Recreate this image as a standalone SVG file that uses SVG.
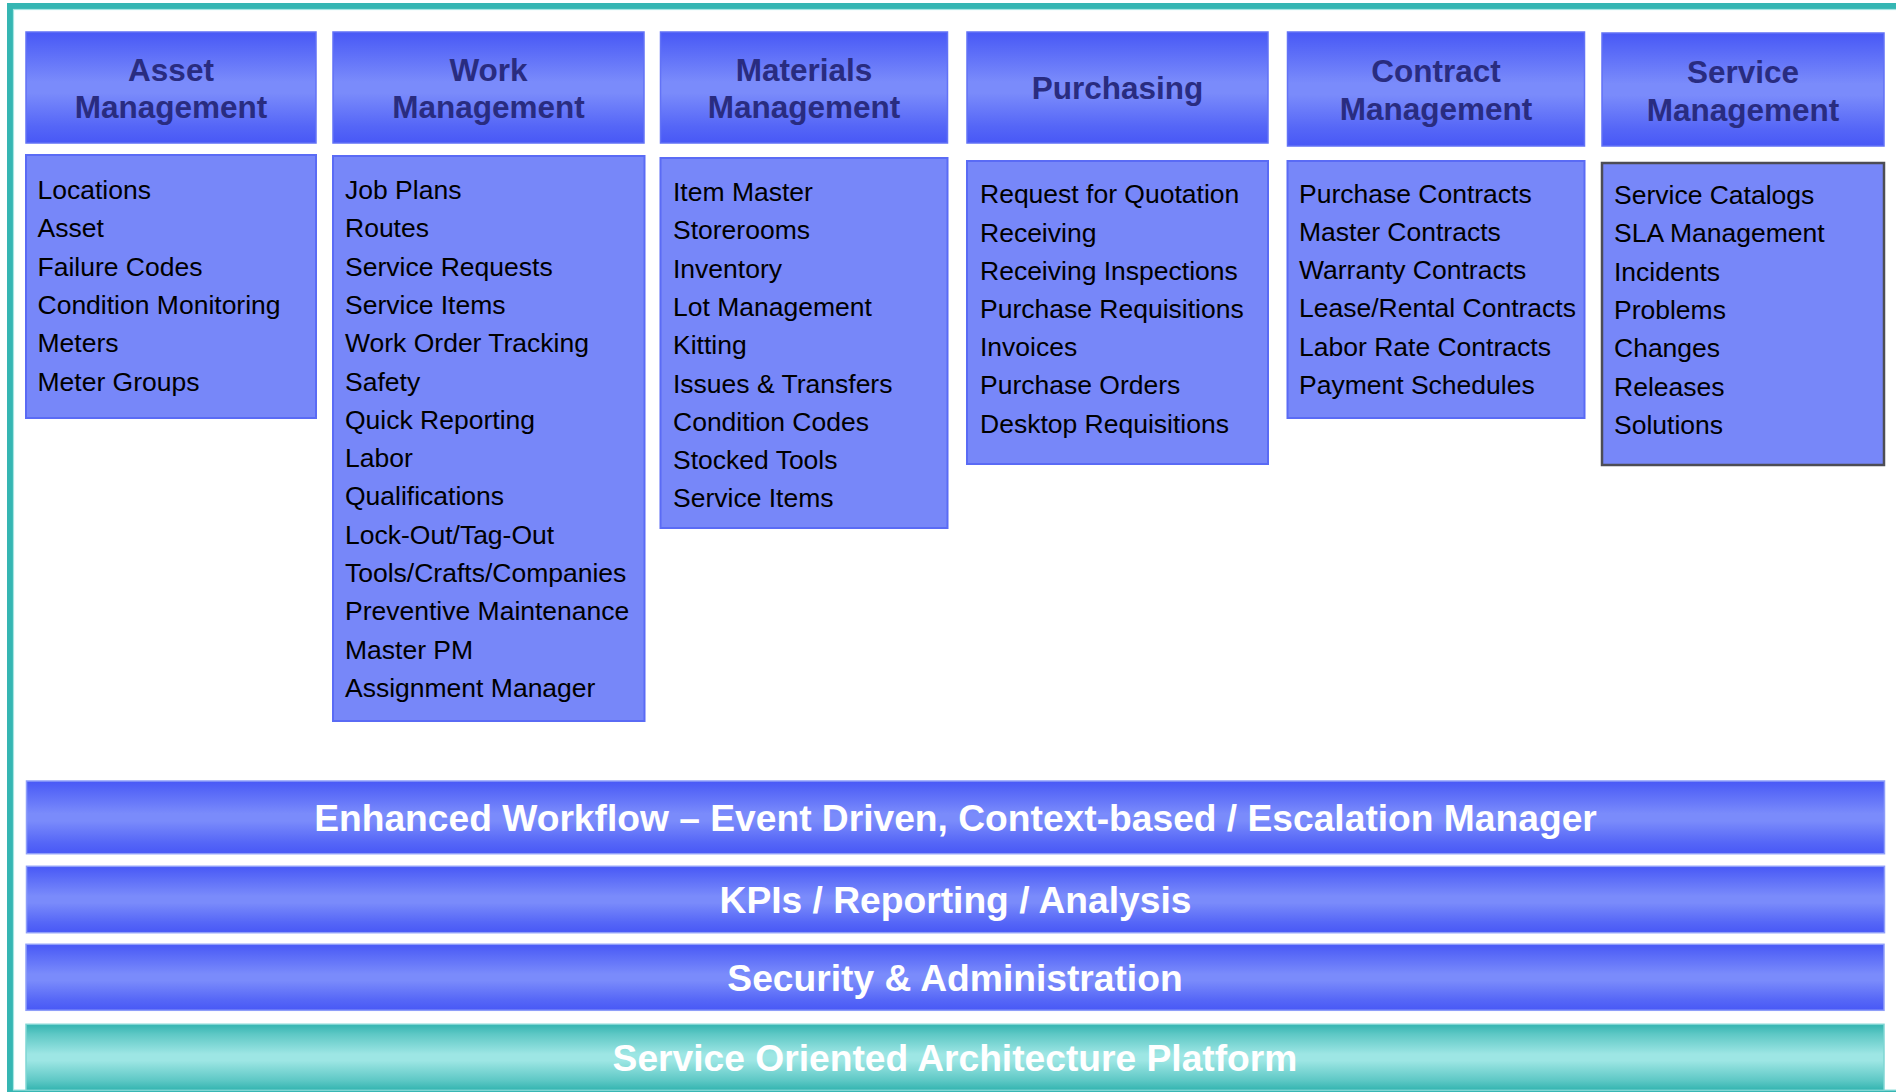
<svg xmlns="http://www.w3.org/2000/svg" width="1896" height="1092" viewBox="0 0 1896 1092">
<defs>
<linearGradient id="gBlue" x1="0" y1="0" x2="0" y2="1">
<stop offset="0" stop-color="#4858f6"/>
<stop offset="0.12" stop-color="#5566f7"/>
<stop offset="0.45" stop-color="#7a8bfb"/>
<stop offset="0.55" stop-color="#7a8bfb"/>
<stop offset="0.85" stop-color="#5566f7"/>
<stop offset="1" stop-color="#4858f6"/>
</linearGradient>
<linearGradient id="gTeal" x1="0" y1="0" x2="0" y2="1">
<stop offset="0" stop-color="#33b4b0"/>
<stop offset="0.15" stop-color="#5ec8c5"/>
<stop offset="0.45" stop-color="#9de6e4"/>
<stop offset="0.55" stop-color="#9de6e4"/>
<stop offset="0.85" stop-color="#5ec8c5"/>
<stop offset="1" stop-color="#33b4b0"/>
</linearGradient>
</defs>
<style>
.hdr{fill:url(#gBlue);stroke:#6272f6;stroke-width:1.5}
.body{fill:#7787f9;stroke:#5a6bf5;stroke-width:2}
.body2{fill:#7787f9;stroke:#4d4d55;stroke-width:2.5}
.bar{fill:url(#gBlue);stroke:#8f9ef9;stroke-width:1.5}
.tbar{fill:url(#gTeal);stroke:#7fd6d3;stroke-width:1.5}
.ht{font-family:"Liberation Sans",Arial,Helvetica,sans-serif;font-weight:bold;font-size:31.5px;fill:#292c80;text-anchor:middle}
.it{font-family:"Liberation Sans",Arial,Helvetica,sans-serif;font-size:26.5px;fill:#000}
.bt{font-family:"Liberation Sans",Arial,Helvetica,sans-serif;font-weight:bold;font-size:37.2px;fill:#fff;text-anchor:middle}
</style>
<rect width="1896" height="1092" fill="#fff"/>
<g id="frame">
<rect x="10" y="6" width="1900" height="1087" fill="none" stroke="#35b6b3" stroke-width="6"/>
<rect x="13.5" y="9.5" width="1900" height="1080.5" fill="none" stroke="#a6e6e3" stroke-width="1.2"/>
</g>

<g id="asset-management">
<rect class="hdr" x="26" y="32" width="290" height="111"/>
<text class="ht" x="171"><tspan x="171" y="81">Asset</tspan><tspan x="171" y="118">Management</tspan></text>
<rect class="body" x="26" y="155" width="290" height="263"/>
<text class="it"><tspan x="37.5" y="199">Locations</tspan><tspan x="37.5" y="237.3">Asset</tspan><tspan x="37.5" y="275.6">Failure Codes</tspan><tspan x="37.5" y="313.9">Condition Monitoring</tspan><tspan x="37.5" y="352.2">Meters</tspan><tspan x="37.5" y="390.5">Meter Groups</tspan></text>
</g>

<g id="work-management">
<rect class="hdr" x="333" y="32" width="311" height="111"/>
<text class="ht"><tspan x="488.5" y="81">Work</tspan><tspan x="488.5" y="118">Management</tspan></text>
<rect class="body" x="333" y="156" width="311.5" height="565"/>
<text class="it"><tspan x="345" y="199">Job Plans</tspan><tspan x="345" y="237.3">Routes</tspan><tspan x="345" y="275.6">Service Requests</tspan><tspan x="345" y="313.9">Service Items</tspan><tspan x="345" y="352.2">Work Order Tracking</tspan><tspan x="345" y="390.5">Safety</tspan><tspan x="345" y="428.8">Quick Reporting</tspan><tspan x="345" y="467.1">Labor</tspan><tspan x="345" y="505.4">Qualifications</tspan><tspan x="345" y="543.7">Lock-Out/Tag-Out</tspan><tspan x="345" y="582">Tools/Crafts/Companies</tspan><tspan x="345" y="620.3">Preventive Maintenance</tspan><tspan x="345" y="658.6">Master PM</tspan><tspan x="345" y="696.9">Assignment Manager</tspan></text>
</g>

<g id="materials-management">
<rect class="hdr" x="660.5" y="32" width="287" height="111"/>
<text class="ht"><tspan x="804" y="81">Materials</tspan><tspan x="804" y="118">Management</tspan></text>
<rect class="body" x="660.5" y="158" width="287" height="370"/>
<text class="it"><tspan x="673" y="201">Item Master</tspan><tspan x="673" y="239.3">Storerooms</tspan><tspan x="673" y="277.6">Inventory</tspan><tspan x="673" y="315.9">Lot Management</tspan><tspan x="673" y="354.2">Kitting</tspan><tspan x="673" y="392.5">Issues &amp; Transfers</tspan><tspan x="673" y="430.8">Condition Codes</tspan><tspan x="673" y="469.1">Stocked Tools</tspan><tspan x="673" y="507.4">Service Items</tspan></text>
</g>

<g id="purchasing">
<rect class="hdr" x="967" y="32" width="301" height="111"/>
<text class="ht" x="1117.5" y="99.3">Purchasing</text>
<rect class="body" x="967" y="161" width="301" height="303"/>
<text class="it"><tspan x="980" y="203.3">Request for Quotation</tspan><tspan x="980" y="241.5">Receiving</tspan><tspan x="980" y="279.7">Receiving Inspections</tspan><tspan x="980" y="317.9">Purchase Requisitions</tspan><tspan x="980" y="356.1">Invoices</tspan><tspan x="980" y="394.3">Purchase Orders</tspan><tspan x="980" y="432.5">Desktop Requisitions</tspan></text>
</g>

<g id="contract-management">
<rect class="hdr" x="1287.5" y="32" width="297" height="114"/>
<text class="ht"><tspan x="1436" y="81.7">Contract</tspan><tspan x="1436" y="120">Management</tspan></text>
<rect class="body" x="1287.5" y="161" width="297" height="257"/>
<text class="it"><tspan x="1299" y="202.7">Purchase Contracts</tspan><tspan x="1299" y="240.9">Master Contracts</tspan><tspan x="1299" y="279.1">Warranty Contracts</tspan><tspan x="1299" y="317.3">Lease/Rental Contracts</tspan><tspan x="1299" y="355.5">Labor Rate Contracts</tspan><tspan x="1299" y="393.7">Payment Schedules</tspan></text>
</g>

<g id="service-management">
<rect class="hdr" x="1602" y="33" width="282" height="113"/>
<text class="ht"><tspan x="1743" y="82.7">Service</tspan><tspan x="1743" y="120.7">Management</tspan></text>
<rect class="body2" x="1602" y="163" width="282" height="302"/>
<text class="it"><tspan x="1614" y="204">Service Catalogs</tspan><tspan x="1614" y="242.3">SLA Management</tspan><tspan x="1614" y="280.6">Incidents</tspan><tspan x="1614" y="318.9">Problems</tspan><tspan x="1614" y="357.2">Changes</tspan><tspan x="1614" y="395.5">Releases</tspan><tspan x="1614" y="433.8">Solutions</tspan></text>
</g>

<g id="enhanced-workflow">
<rect class="bar" x="26.5" y="781" width="1858" height="72.7"/>
<text class="bt" x="955.5" y="831">Enhanced Workflow – Event Driven, Context-based / Escalation Manager</text>
</g>
<g id="kpis">
<rect class="bar" x="26.5" y="866.3" width="1858" height="66.4"/>
<text class="bt" x="955.5" y="913">KPIs / Reporting / Analysis</text>
</g>
<g id="security">
<rect class="bar" x="26" y="944.3" width="1858" height="66"/>
<text class="bt" x="955" y="991">Security &amp; Administration</text>
</g>
<g id="soa-platform">
<rect class="tbar" x="26" y="1024.3" width="1858" height="66"/>
<text class="bt" x="955" y="1071">Service Oriented Architecture Platform</text>
</g>
<g id="connectors"/>
</svg>
